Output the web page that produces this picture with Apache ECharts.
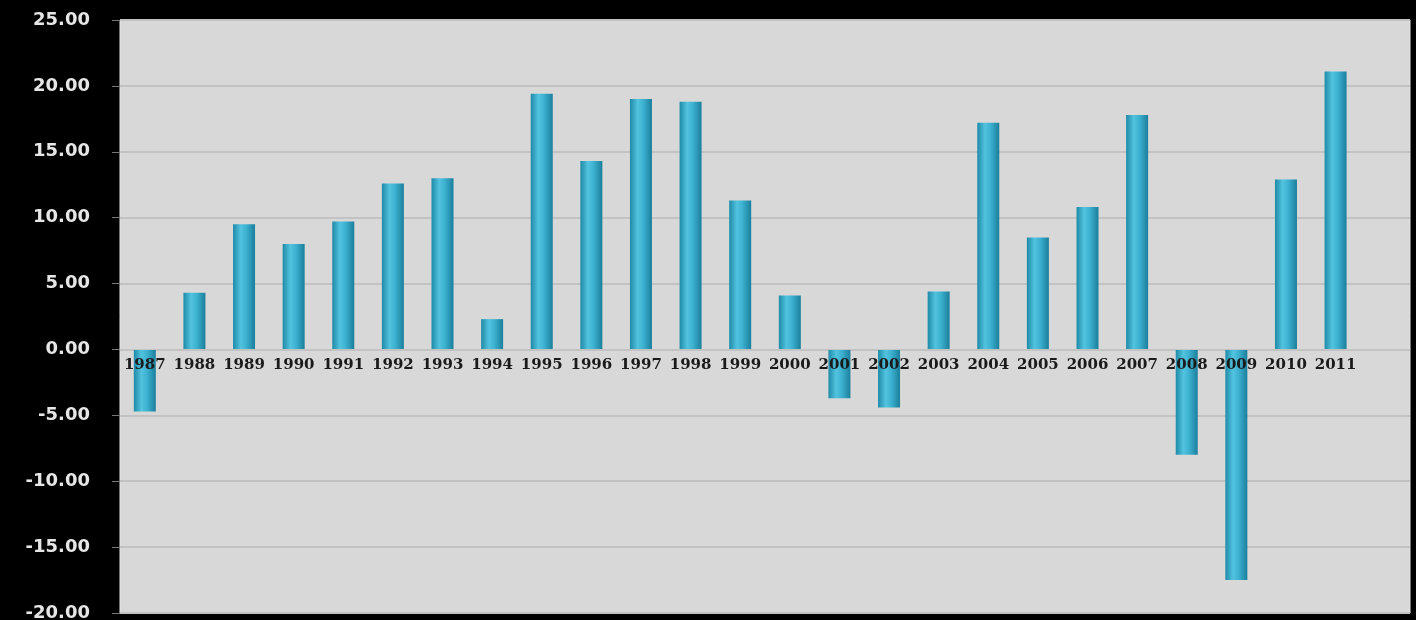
<!DOCTYPE html>
<html><head><meta charset="utf-8">
<script src="https://cdn.jsdelivr.net/npm/echarts@6/dist/echarts.min.js"></script>
<style>html,body{margin:0;padding:0;background:#000;}#c{width:1416px;height:620px;}</style>
</head><body><div id="c"></div>
<script>
const years = ['1987','1988','1989','1990','1991','1992','1993','1994','1995','1996','1997','1998','1999','2000','2001','2002','2003','2004','2005','2006','2007','2008','2009','2010','2011',''];
const values = [-4.7,4.3,9.5,8.0,9.7,12.6,13.0,2.3,19.4,14.3,19.0,18.8,11.3,4.1,-3.7,-4.4,4.4,17.2,8.5,10.8,17.8,-8.0,-17.5,12.9,21.1,null];
const yMin = -20, yMax = 25, yStep = 5;

const gridTop = 20, gridBottom = 7, H = 620;
const plotH = H - gridTop - gridBottom;
const zeroFromBottom = plotH * (0 - yMin) / (yMax - yMin);

const chart = echarts.init(document.getElementById('c'));
chart.setOption({
  backgroundColor: '#000',
  animation: false,
  grid: {left: 120, right: 6, top: gridTop, bottom: gridBottom, outerBoundsMode: 'none', containLabel: false,
         show: true, backgroundColor: '#d8d8d8', borderColor: '#e6e6e6', borderWidth: 1},
  xAxis: {
    type: 'category', data: years, position: 'bottom', offset: -zeroFromBottom, z: 10,
    axisLine: {onZero: false, lineStyle: {color: '#c4c4c4', width: 1}},
    axisTick: {show: false},
    axisLabel: {interval: 0, color: '#1a1a1a', fontFamily: 'DejaVu Serif', fontWeight: 'bold', fontSize: 15, margin: 8,
                hideOverlap: false},
    splitLine: {show: false}
  },
  yAxis: {
    type: 'value', min: yMin, max: yMax, interval: yStep,
    axisLine: {show: false},
    axisTick: {show: true, length: 8, lineStyle: {color: '#777'}},
    axisLabel: {color: '#e6e6e6', fontFamily: 'DejaVu Sans', fontWeight: 'bold', fontSize: 18, margin: 30,
      formatter: v => v.toFixed(2)},
    splitLine: {lineStyle: {color: '#c2c2c2', width: 2}}
  },
  series: [{
    type: 'bar', data: values, barWidth: 22,
    itemStyle: {
      color: new echarts.graphic.LinearGradient(0, 0, 1, 0, [
        {offset: 0, color: '#1e8aa8'},
        {offset: 0.35, color: '#52c3df'},
        {offset: 0.6, color: '#3db1d0'},
        {offset: 1, color: '#1a7f9c'}
      ])
    }
  }]
});
</script></body></html>
